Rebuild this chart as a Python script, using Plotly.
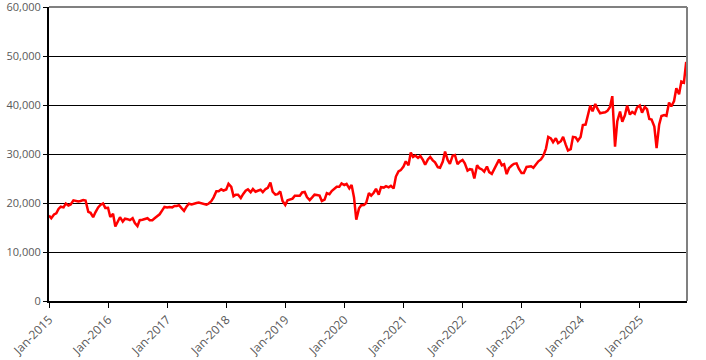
import pandas as pd
import plotly.graph_objects as go

# Semi-monthly index levels (1st and 15th of each month)
v2015 = [17450, 16900, 17670, 17900, 18800, 19250, 19100, 19900, 19500, 19700, 20550, 20400,
         20300, 20400, 20600, 20500, 18200, 18000, 17100, 18100, 19100, 19600, 19900, 19000]
v2016 = [19030, 17150, 17800, 15200, 16100, 17100, 16200, 16800, 16700, 16500, 16900, 15900,
         15300, 16500, 16600, 16800, 16900, 16500, 16500, 16900, 17400, 17700, 18500, 19200]
v2017 = [19100, 19200, 19100, 19400, 19400, 19550, 18900, 18400, 19300, 19850, 19700, 19900,
         20000, 20100, 19950, 19700, 19650, 19900, 20400, 21150, 22400, 22400, 22800, 22550]
v2018 = [22760, 23900, 23300, 21400, 21700, 21700, 21000, 21800, 22500, 22800, 22200, 22850,
         22300, 22500, 22700, 22200, 22850, 23100, 24200, 22300, 21700, 21800, 22350, 20400]
v2019 = [19600, 20550, 20800, 20900, 21500, 21450, 21500, 22150, 22250, 21200, 20600, 21100,
         21700, 21650, 21500, 20400, 20700, 22000, 21800, 22450, 22850, 23300, 23300, 24000]
v2020 = [23650, 23900, 22970, 23700, 21140, 16600, 18900, 19550, 19600, 20000, 22000, 21500,
         22100, 22900, 21700, 23250, 23150, 23450, 23200, 23500, 22980, 25400, 26430, 26700]
v2021 = [27440, 28500, 27700, 30300, 29400, 29700, 29200, 29600, 28800, 27800, 28900, 29400,
         28700, 28300, 27300, 27200, 28450, 30500, 28800, 28000, 29650, 29800, 27900, 28450]
v2022 = [28800, 28100, 26600, 26900, 26800, 25000, 27700, 27100, 26850, 26400, 27450, 26300,
         25950, 26800, 27800, 28850, 27700, 27900, 25900, 27100, 27650, 28000, 28100, 27000]
v2023 = [26100, 26100, 27350, 27500, 27500, 27200, 28050, 28500, 28900, 29600, 31100, 33500,
         33200, 32400, 33200, 32200, 32600, 33500, 31900, 30700, 31000, 33500, 33400, 32700]
v2024 = [33460, 35900, 36000, 38200, 39900, 38700, 40200, 39200, 38300, 38400, 38500, 38800,
         39600, 41800, 31500, 36700, 38650, 36600, 37900, 39900, 38050, 38600, 38200, 39500]
v2025 = [39900, 38450, 39600, 39150, 37150, 37050, 35600, 31200, 36000, 37750, 37950, 37800,
         40500, 39700, 40800, 43400, 42200, 44800, 44550, 48800]

values = v2015 + v2016 + v2017 + v2018 + v2019 + v2020 + v2021 + v2022 + v2023 + v2024 + v2025
dates = pd.date_range("2015-01-01", periods=len(values), freq="SMS")

y_ticks = [0, 10000, 20000, 30000, 40000, 50000, 60000]
x_start, x_end = "2015-01-01", "2025-10-20"

fig = go.Figure()
fig.add_trace(go.Scatter(x=dates, y=values, mode="lines",
                         line=dict(color="#FF0000", width=2.5), hoverinfo="skip"))

fig.update_layout(
    width=706, height=360,
    margin=dict(l=49, r=19, t=7, b=59),
    paper_bgcolor="white", plot_bgcolor="white",
    showlegend=False,
    font=dict(family="Open Sans", size=11, color="#595959"),
    xaxis=dict(
        range=[x_start, x_end], type="date", automargin=False,
        tick0="2015-01-01", dtick="M12", tickformat="%b-%Y", tickangle=-45,
        tickfont=dict(size=12),
        showgrid=False, showline=True, linecolor="black", linewidth=2,
        ticks="outside", ticklen=5, tickcolor="black", tickwidth=1,
        zeroline=False, ticklabeloverflow="allow",
    ),
    yaxis=dict(
        range=[0, 60000], tickvals=y_ticks, tickformat=",", automargin=False,
        showgrid=True, gridcolor="black", gridwidth=1,
        showline=True, linecolor="black", linewidth=2,
        ticks="outside", ticklen=4, tickcolor="black", tickwidth=1,
        zeroline=False, ticklabeloverflow="allow",
    ),
    shapes=[
        dict(type="line", xref="paper", yref="paper", x0=0, x1=1, y0=1, y1=1,
             line=dict(color="#808080", width=2)),
        dict(type="line", xref="paper", yref="paper", x0=1, x1=1, y0=0, y1=1,
             line=dict(color="#808080", width=2)),
    ],
)

fig.write_html("out.html", config={"displayModeBar": False},
               post_script="document.body.style.margin='0';")
